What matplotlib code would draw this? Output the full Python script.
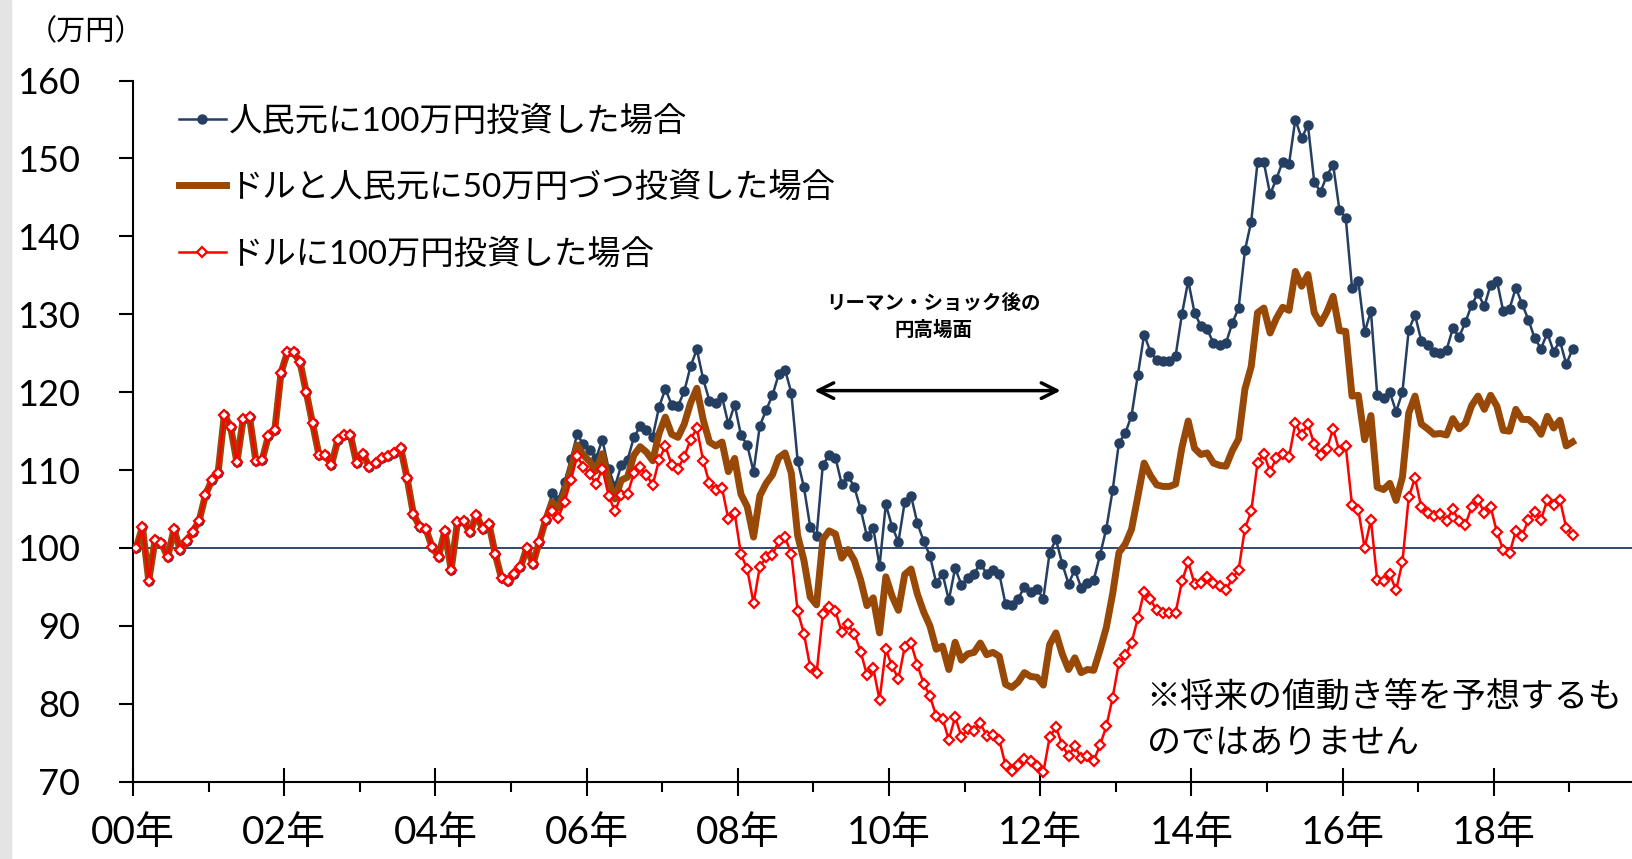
import numpy as np
import matplotlib.pyplot as plt
from matplotlib.patches import Rectangle

plt.rcParams['font.family'] = ['Lato', 'Noto Sans CJK JP', 'DejaVu Sans']

# 月末値、2000年1月を100とした評価額(万円)。2000年1月〜2019年1月
# 2005年6月までは人民元がドルに固定されていたので3本とも同じ値
peg_period = [100.0, 102.7, 95.8, 101.0, 100.7, 98.8, 102.4, 99.7, 100.9, 102.1, 103.5, 106.8,
              108.7, 109.6, 117.1, 115.5, 111.0, 116.6, 116.8, 111.2, 111.3, 114.4, 115.1, 122.5,
              125.1, 125.1, 123.9, 120.0, 116.0, 112.0, 111.9, 110.7, 113.8, 114.5, 114.5, 110.9,
              112.1, 110.4, 110.9, 111.5, 111.8, 112.2, 112.8, 109.0, 104.4, 102.7, 102.4, 100.1,
              98.9, 102.2, 97.2, 103.3, 103.4, 102.0, 104.2, 102.5, 103.1, 99.2, 96.1, 95.7,
              96.7, 97.5, 100.0, 98.0, 100.8, 103.6]

cny_100 = peg_period + [
    107.0, 106.2, 108.5, 111.4, 114.6, 113.3, 112.6, 111.5, 113.9, 110.2, 107.9, 110.6,
    111.3, 114.2, 115.6, 115.1, 114.3, 118.1, 120.4, 118.4, 118.2, 120.1, 123.3, 125.5,
    121.7, 118.9, 118.6, 119.4, 115.9, 118.4, 114.5, 113.2, 109.8, 115.7, 117.7, 119.6,
    122.3, 122.9, 119.9, 111.2, 107.8, 102.7, 101.5, 110.7, 111.9, 111.6, 108.2, 109.3,
    107.8, 105.0, 101.5, 102.6, 97.7, 105.6, 102.7, 100.8, 105.9, 106.7, 103.2, 100.9,
    99.0, 95.5, 96.7, 93.3, 97.4, 95.3, 96.1, 96.7, 98.0, 96.7, 97.2, 96.7,
    92.8, 92.7, 93.5, 95.0, 94.4, 94.7, 93.5, 99.4, 101.1, 98.0, 95.4, 97.2,
    94.9, 95.5, 95.9, 99.1, 102.5, 107.4, 113.5, 114.7, 117.0, 122.2, 127.4, 125.2,
    124.1, 124.0, 124.0, 124.7, 130.0, 134.3, 130.2, 128.5, 128.1, 126.3, 126.1, 126.3,
    128.9, 130.8, 138.2, 141.9, 149.5, 149.5, 145.4, 147.4, 149.6, 149.3, 155.0, 152.6,
    154.3, 147.0, 145.7, 147.8, 149.2, 143.4, 142.4, 133.4, 134.3, 127.7, 130.4, 119.6,
    119.2, 120.0, 117.5, 120.0, 128.0, 129.9, 126.6, 126.0, 125.1, 125.0, 125.4, 128.2,
    127.1, 129.0, 131.2, 132.7, 131.0, 133.8, 134.3, 130.4, 130.7, 133.4, 131.3, 129.3,
    126.9, 125.6, 127.6, 125.2, 126.6, 123.6, 125.5]

mix_50 = peg_period + [
    105.9, 105.1, 107.2, 110.1, 113.2, 111.9, 111.1, 109.9, 112.1, 108.5, 106.3, 108.7,
    109.1, 111.9, 113.0, 112.3, 111.2, 114.7, 116.8, 114.6, 114.2, 115.9, 118.6, 120.5,
    116.5, 113.6, 113.1, 113.6, 109.8, 111.5, 106.9, 105.3, 101.4, 106.7, 108.3, 109.4,
    111.6, 112.2, 109.6, 101.6, 98.4, 93.7, 92.7, 101.1, 102.2, 101.8, 98.7, 99.8,
    98.4, 95.9, 92.6, 93.6, 89.1, 96.3, 93.8, 92.0, 96.6, 97.3, 94.1, 91.8,
    90.0, 87.0, 87.4, 84.4, 87.9, 85.6, 86.4, 86.6, 87.8, 86.3, 86.6, 86.1,
    82.5, 82.1, 82.8, 84.0, 83.5, 83.4, 82.4, 87.6, 89.1, 86.4, 84.4, 85.9,
    84.0, 84.4, 84.3, 86.9, 89.8, 94.1, 99.4, 100.5, 102.4, 106.6, 110.9, 109.3,
    108.1, 107.9, 107.9, 108.2, 112.9, 116.3, 112.8, 112.0, 112.2, 110.9, 110.6, 110.5,
    112.5, 114.0, 120.4, 123.3, 130.2, 130.8, 127.6, 129.5, 130.9, 130.5, 135.5, 133.6,
    135.1, 130.2, 128.8, 130.3, 132.3, 127.9, 127.8, 119.5, 119.6, 113.9, 117.0, 107.8,
    107.5, 108.3, 106.1, 109.1, 117.3, 119.5, 115.9, 115.3, 114.6, 114.7, 114.5, 116.6,
    115.3, 116.0, 118.3, 119.5, 117.8, 119.6, 118.2, 115.1, 115.0, 117.8, 116.5, 116.5,
    115.8, 114.6, 116.9, 115.4, 116.4, 113.1, 113.6]

usd_100 = peg_period + [
    104.7, 103.9, 105.9, 108.7, 111.8, 110.4, 109.5, 108.2, 110.2, 106.7, 104.7, 106.8,
    106.9, 109.6, 110.4, 109.4, 108.1, 111.3, 113.1, 110.7, 110.2, 111.7, 113.9, 115.4,
    111.2, 108.3, 107.5, 107.7, 103.7, 104.5, 99.2, 97.3, 92.9, 97.6, 98.8, 99.1,
    100.9, 101.4, 99.2, 91.9, 89.0, 84.7, 83.9, 91.5, 92.4, 91.9, 89.2, 90.2,
    89.0, 86.7, 83.7, 84.6, 80.5, 87.0, 84.8, 83.2, 87.3, 87.8, 85.0, 82.6,
    81.0, 78.4, 78.1, 75.4, 78.3, 75.8, 76.7, 76.5, 77.5, 75.9, 76.0, 75.4,
    72.1, 71.4, 72.1, 72.9, 72.6, 72.0, 71.2, 75.7, 77.0, 74.7, 73.3, 74.6,
    73.0, 73.3, 72.7, 74.7, 77.1, 80.8, 85.3, 86.2, 87.8, 91.0, 94.4, 93.4,
    92.0, 91.7, 91.7, 91.7, 95.7, 98.2, 95.4, 95.5, 96.3, 95.5, 95.1, 94.6,
    96.1, 97.2, 102.5, 104.7, 110.9, 112.1, 109.8, 111.6, 112.1, 111.7, 116.0, 114.5,
    115.9, 113.3, 111.9, 112.7, 115.3, 112.4, 113.1, 105.5, 104.9, 100.0, 103.6, 95.9,
    95.7, 96.6, 94.6, 98.2, 106.5, 109.0, 105.2, 104.5, 104.1, 104.4, 103.5, 105.0,
    103.4, 103.0, 105.3, 106.2, 104.5, 105.3, 102.0, 99.8, 99.3, 102.2, 101.6, 103.6,
    104.6, 103.6, 106.2, 105.5, 106.2, 102.6, 101.7]

year_labels = ['00年', '02年', '04年', '06年', '08年', '10年', '12年', '14年', '16年', '18年']
series_names = ['人民元に100万円投資した場合',
                'ドルと人民元に50万円づつ投資した場合',
                'ドルに100万円投資した場合']

navy = '#243F62'
brown = '#984807'
red = '#FF0000'

fig = plt.figure(figsize=(16.33, 8.59), dpi=100)
fig.patches.append(Rectangle((0, 0), 11 / 1633, 1, transform=fig.transFigure,
                             color='#e4e4e4', zorder=0))
ax = fig.add_axes([133 / 1633, 0.090, 1 - 133 / 1633, 0.9062 - 0.090])

x = np.arange(len(usd_100))
ax.axhline(100, color='#1F3A5F', lw=1.3, zorder=1)
l1, = ax.plot(x, cny_100, color=navy, lw=1.8, marker='o', ms=6.5, zorder=2)
l2, = ax.plot(x, mix_50, color=brown, lw=5, zorder=3)
l3, = ax.plot(x, usd_100, color=red, lw=1.8, marker='D', ms=5, mfc='white',
              mec=red, mew=1.6, zorder=4)

ax.set_xlim(-0.5, 237.6)
ax.set_ylim(70, 160)
ax.set_yticks(range(70, 161, 10))

year_ticks = [-0.5 + 24 * k for k in range(len(year_labels))]
ax.set_xticks(year_ticks)
ax.set_xticklabels(year_labels)
ax.set_xticks([11.5 + 24 * k for k in range(10)], minor=True)

for side in ['top', 'right']:
    ax.spines[side].set_visible(False)
for side in ['left', 'bottom']:
    ax.spines[side].set_linewidth(1.5)

ax.tick_params(axis='x', which='major', direction='inout', length=20, width=1.5,
               pad=14, labelsize=28)
ax.tick_params(axis='x', which='minor', direction='out', length=7, width=1.5)
ax.tick_params(axis='y', direction='out', length=10, width=1.5, pad=28, labelsize=26)

ax.legend([l1, l2, l3], series_names, loc='upper left',
          bbox_to_anchor=(179 / 1633, 1 - 105 / 859), bbox_transform=fig.transFigure,
          frameon=False, fontsize=24, handlelength=1.4, handletextpad=0.1,
          labelspacing=1.05, borderpad=0, borderaxespad=0)

ax.annotate('', xy=(147.2, 120.2), xytext=(107.2, 120.2),
            arrowprops=dict(arrowstyle='<->', lw=2.5, color='black', mutation_scale=28))
ax.text(126.6, 129.8, 'リーマン・ショック後の\n円高場面', ha='center', va='center',
        fontsize=14, fontweight='bold', linespacing=1.5)

ax.text(160.4, 83.0, '※将来の値動き等を予想するも\nのではありません', ha='left', va='top',
        fontsize=24.5, linespacing=1.55)

fig.text(28 / 1633, 1 - 31 / 859, '（万円）', ha='left', va='center', fontsize=21)

fig.savefig('out.png', dpi=100)
